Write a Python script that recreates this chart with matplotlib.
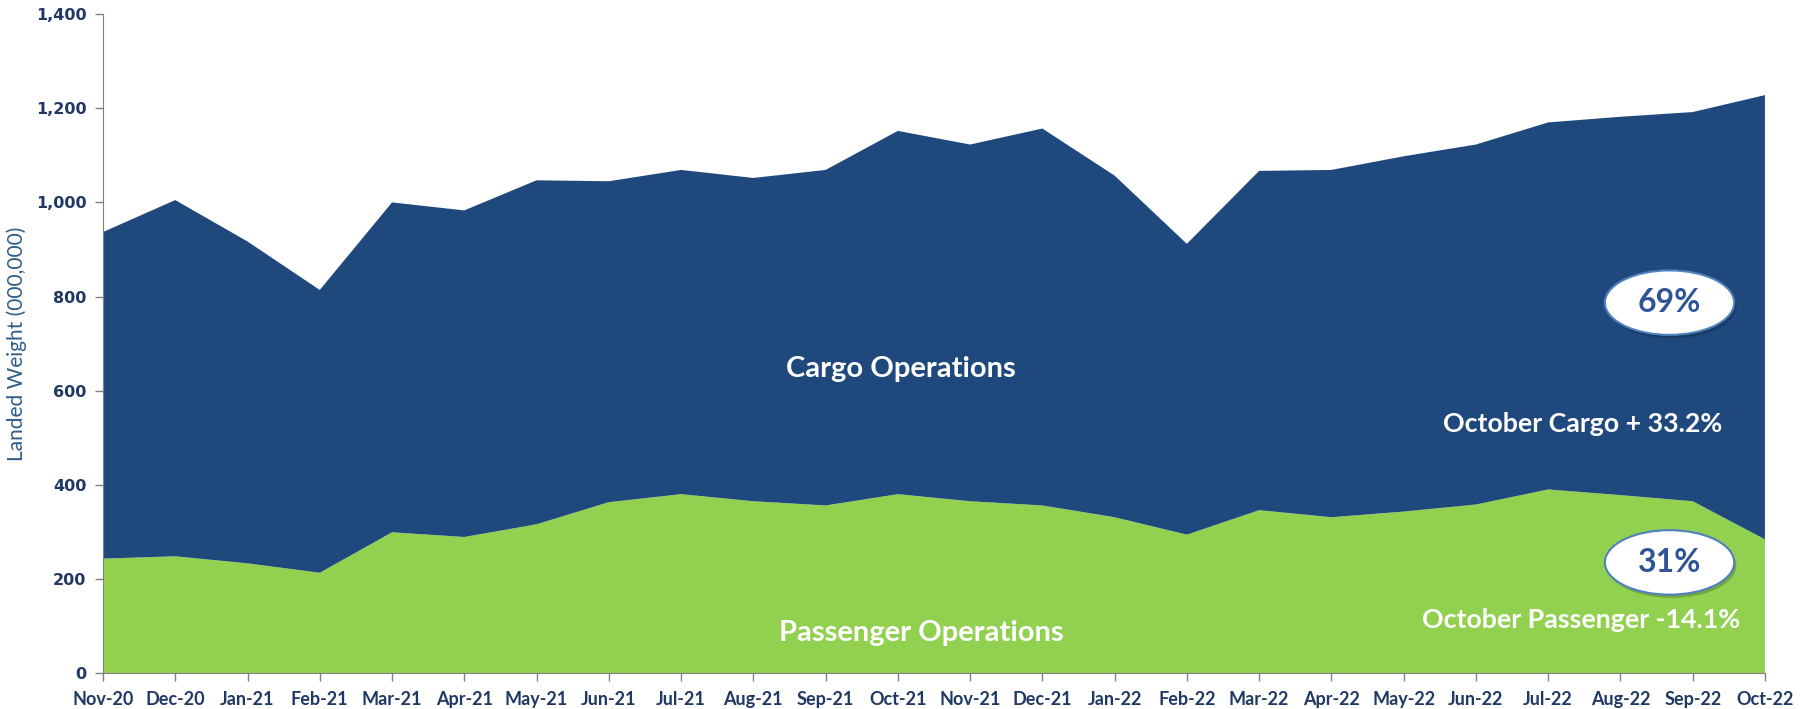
import numpy as np
import matplotlib
matplotlib.use("Agg")
import matplotlib.pyplot as plt
from matplotlib.patches import Ellipse

months = ["Nov-20", "Dec-20", "Jan-21", "Feb-21", "Mar-21", "Apr-21", "May-21", "Jun-21",
          "Jul-21", "Aug-21", "Sep-21", "Oct-21", "Nov-21", "Dec-21", "Jan-22", "Feb-22",
          "Mar-22", "Apr-22", "May-22", "Jun-22", "Jul-22", "Aug-22", "Sep-22", "Oct-22"]
passenger = [243, 248, 233, 213, 299, 289, 316, 363, 380, 365, 356, 380,
             365, 356, 331, 294, 346, 331, 343, 358, 390, 378, 365, 284]
total = [937, 1005, 917, 814, 1000, 983, 1047, 1045, 1069, 1052, 1069, 1152,
         1123, 1157, 1057, 912, 1067, 1069, 1098, 1123, 1170, 1182, 1192, 1228]
cargo = [t - p for t, p in zip(total, passenger)]
yticks = [0, 200, 400, 600, 800, 1000, 1200, 1400]

NAVY = "#1F497D"
GREEN = "#92D050"
TXT = "#1F3864"
LBL = "#2E5C8A"

fig = plt.figure(figsize=(18.1, 7.09), dpi=100)
ax = fig.add_axes([0.0569, 0.0508, 0.9182, 0.9292])
x = np.arange(len(months))
ax.stackplot(x, passenger, cargo, colors=[GREEN, NAVY], linewidth=0)

ax.set_xlim(0, len(months) - 1)
ax.set_ylim(0, 1400)
ax.set_yticks(yticks)
ax.set_yticklabels([f"{v:,}" for v in yticks], fontfamily="DejaVu Sans",
                   fontweight="bold", fontsize=11.5, color=TXT)
ax.set_xticks(x)
ax.set_xticklabels(months, fontfamily="Lato", fontweight="bold", fontsize=13, color=TXT)
ax.tick_params(axis="both", colors="#808080", length=6, width=1, direction="out")
ax.tick_params(axis="x", labelcolor=TXT, pad=7)
ax.tick_params(axis="y", labelcolor=TXT, pad=6)
for s in ["top", "right"]:
    ax.spines[s].set_visible(False)
for s in ["left", "bottom"]:
    ax.spines[s].set_color("#808080")
ax.set_ylabel("Landed Weight (000,000)", fontfamily="Lato", fontsize=15, color=LBL, labelpad=6)

ax.text(11.04, 645, "Cargo Operations", color="white", fontfamily="Lato",
        fontweight="bold", fontsize=21, ha="center", va="center")
ax.text(11.33, 86, "Passenger Operations", color="white", fontfamily="Lato",
        fontweight="bold", fontsize=21, ha="center", va="center")
ax.text(20.48, 530, "October Cargo + 33.2%", color="white", fontfamily="Lato",
        fontweight="bold", fontsize=19.3, ha="center", va="center")
ax.text(20.46, 113, "October Passenger -14.1%", color="white", fontfamily="Lato",
        fontweight="bold", fontsize=19.3, ha="center", va="center")

for cy, lab in [(787, "69%"), (235, "31%")]:
    sh = Ellipse((21.71, cy - 7), 1.79, 137, facecolor="#000000", alpha=0.2,
                 edgecolor="none", zorder=4)
    ax.add_patch(sh)
    el = Ellipse((21.68, cy), 1.79, 137, facecolor="white", edgecolor="#4F81BD",
                 linewidth=1.5, zorder=5)
    ax.add_patch(el)
    ax.text(21.68, cy, lab, color="#2F5597", fontfamily="Lato", fontweight="bold",
            fontsize=23, ha="center", va="center", zorder=6)

fig.savefig("out.png", dpi=100)
